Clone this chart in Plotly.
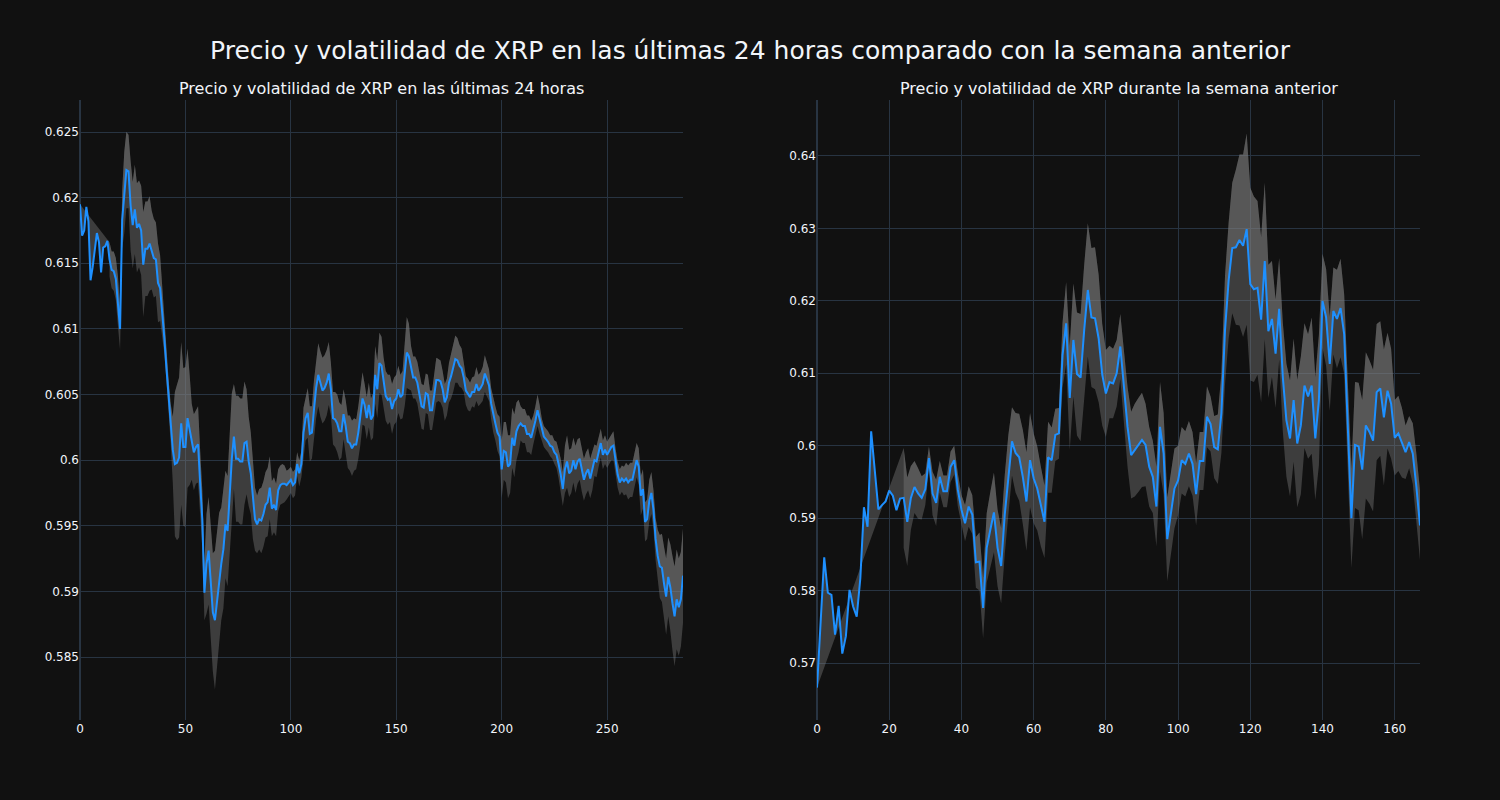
import plotly.graph_objects as go
from plotly.subplots import make_subplots

# ---- Left: last 24 hours ----
day_price = [
0.6195,0.6171,0.6175,0.6193,0.6182,0.6137,0.6147,0.6162,0.6173,0.6166,
0.6143,0.6162,0.6163,0.6167,0.6153,0.6145,0.6144,0.6138,0.6121,0.6100,
0.6183,0.6204,0.6221,0.6220,0.6194,0.6179,0.6191,0.6177,0.6180,0.6175,
0.6149,0.6161,0.6161,0.6165,0.6160,0.6154,0.6153,0.6135,0.6131,0.6113,
0.6093,0.6070,0.6051,0.6028,0.6008,0.5997,0.5998,0.6002,0.6028,0.6010,
0.6010,0.6032,0.6023,0.6014,0.6006,0.6010,0.6012,0.5982,0.5955,0.5899,
0.5921,0.5931,0.5907,0.5884,0.5878,0.5893,0.5910,0.5921,0.5932,0.5951,
0.5946,0.5977,0.6001,0.6018,0.6001,0.6001,0.5999,0.5999,0.6013,0.6014,
0.5999,0.5990,0.5970,0.5955,0.5951,0.5955,0.5954,0.5959,0.5966,0.5968,
0.5979,0.5963,0.5966,0.5962,0.5977,0.5981,0.5982,0.5982,0.5981,0.5983,
0.5985,0.5981,0.5983,0.5997,0.5990,0.5997,0.6021,0.6032,0.6036,0.6020,
0.6021,0.6039,0.6055,0.6065,0.6058,0.6053,0.6055,0.6059,0.6066,0.6054,
0.6032,0.6031,0.6028,0.6022,0.6022,0.6035,0.6026,0.6014,0.6013,0.6009,
0.6012,0.6012,0.6021,0.6034,0.6047,0.6042,0.6032,0.6042,0.6031,0.6034,
0.6065,0.6054,0.6074,0.6072,0.6059,0.6049,0.6046,0.6047,0.6039,0.6045,
0.6047,0.6054,0.6048,0.6050,0.6066,0.6082,0.6079,0.6070,0.6063,0.6063,
0.6059,0.6050,0.6041,0.6040,0.6051,0.6050,0.6038,0.6038,0.6049,0.6061,
0.6061,0.6060,0.6054,0.6044,0.6048,0.6059,0.6064,0.6070,0.6077,0.6076,
0.6072,0.6070,0.6063,0.6053,0.6050,0.6048,0.6052,0.6052,0.6058,0.6053,
0.6055,0.6058,0.6066,0.6062,0.6057,0.6043,0.6034,0.6028,0.6021,0.6018,
0.5993,0.6007,0.6006,0.5995,0.5997,0.6017,0.6011,0.6022,0.6026,0.6028,
0.6026,0.6026,0.6020,0.6020,0.6017,0.6023,0.6030,0.6038,0.6031,0.6023,
0.6018,0.6016,0.6014,0.6011,0.6010,0.6006,0.6004,0.5997,0.5989,0.5978,
0.5993,0.5999,0.5990,0.5992,0.6000,0.5993,0.5999,0.6001,0.5992,0.5985,
0.5990,0.5993,0.5986,0.5992,0.6000,0.5999,0.6006,0.6013,0.6004,0.6008,
0.6004,0.6007,0.6010,0.6011,0.5999,0.5989,0.5983,0.5986,0.5984,0.5986,
0.5983,0.5985,0.5985,0.5992,0.6000,0.5995,0.5973,0.5978,0.5953,0.5955,
0.5969,0.5975,0.5962,0.5940,0.5927,0.5919,0.5918,0.5906,0.5896,0.5911,
0.5903,0.5891,0.5881,0.5894,0.5888,0.5894,0.5912,
]
day_vol = [None] * 14 + [
0.0013,0.0014,0.0015,0.0016,0.0019,0.0016,
0.0022,0.0031,0.0029,0.0028,0.0034,0.0033,0.0034,0.0034,0.0033,0.0034,
0.0040,0.0036,0.0036,0.0036,0.0030,0.0030,0.0028,0.0030,0.0025,0.0020,
0.0012,0.0010,0.0011,0.0015,0.0025,0.0055,0.0059,0.0061,0.0062,0.0060,
0.0061,0.0053,0.0042,0.0029,0.0029,0.0028,0.0029,0.0025,0.0022,0.0021,
0.0038,0.0041,0.0045,0.0045,0.0053,0.0051,0.0050,0.0043,0.0045,0.0041,
0.0042,0.0047,0.0050,0.0040,0.0048,0.0048,0.0048,0.0048,0.0047,0.0040,
0.0034,0.0031,0.0030,0.0024,0.0022,0.0023,0.0025,0.0025,0.0025,0.0026,
0.0024,0.0021,0.0021,0.0020,0.0016,0.0015,0.0015,0.0014,0.0011,0.0010,
0.0010,0.0010,0.0010,0.0009,0.0010,0.0010,0.0019,0.0017,0.0019,0.0021,
0.0020,0.0022,0.0023,0.0024,0.0025,0.0025,0.0025,0.0025,0.0024,0.0020,
0.0020,0.0021,0.0022,0.0022,0.0020,0.0019,0.0020,0.0020,0.0021,0.0021,
0.0020,0.0019,0.0020,0.0022,0.0020,0.0016,0.0016,0.0017,0.0016,0.0017,
0.0022,0.0022,0.0023,0.0022,0.0019,0.0019,0.0019,0.0018,0.0019,0.0018,
0.0018,0.0018,0.0017,0.0018,0.0025,0.0027,0.0025,0.0017,0.0016,0.0016,
0.0016,0.0017,0.0017,0.0017,0.0015,0.0015,0.0015,0.0015,0.0016,0.0017,
0.0016,0.0016,0.0014,0.0014,0.0014,0.0015,0.0017,0.0018,0.0018,0.0017,
0.0016,0.0015,0.0011,0.0011,0.0012,0.0011,0.0011,0.0012,0.0013,0.0012,
0.0012,0.0013,0.0014,0.0013,0.0012,0.0012,0.0013,0.0013,0.0014,0.0015,
0.0022,0.0022,0.0023,0.0024,0.0022,0.0023,0.0024,0.0022,0.0020,0.0013,
0.0013,0.0013,0.0014,0.0014,0.0013,0.0011,0.0011,0.0012,0.0011,0.0009,
0.0008,0.0008,0.0008,0.0008,0.0009,0.0009,0.0010,0.0011,0.0012,0.0013,
0.0018,0.0020,0.0018,0.0017,0.0017,0.0018,0.0017,0.0016,0.0016,0.0016,
0.0016,0.0016,0.0015,0.0015,0.0012,0.0012,0.0011,0.0011,0.0011,0.0011,
0.0010,0.0010,0.0010,0.0011,0.0010,0.0010,0.0010,0.0010,0.0011,0.0012,
0.0013,0.0013,0.0013,0.0013,0.0013,0.0014,0.0015,0.0015,0.0015,0.0015,
0.0016,0.0016,0.0015,0.0016,0.0020,0.0024,0.0026,0.0028,0.0029,0.0030,
0.0033,0.0036,0.0038,0.0038,0.0037,0.0036,0.0036,
]

# ---- Right: previous week ----
week_price = [
0.5666,0.5757,0.5846,0.5797,0.5794,0.5739,0.5779,0.5713,0.5737,0.5801,
0.5778,0.5764,0.5817,0.5915,0.5888,0.6020,0.5962,0.5912,0.5918,0.5923,
0.5938,0.5931,0.5911,0.5927,0.5928,0.5895,0.5928,0.5943,0.5934,0.5928,
0.5940,0.5983,0.5934,0.5921,0.5957,0.5937,0.5937,0.5971,0.5980,0.5939,
0.5912,0.5893,0.5916,0.5905,0.5839,0.5840,0.5776,0.5859,0.5884,0.5908,
0.5859,0.5834,0.5905,0.5960,0.6006,0.5990,0.5984,0.5957,0.5923,0.5980,
0.5955,0.5941,0.5916,0.5895,0.5984,0.5980,0.6015,0.6017,0.6125,0.6169,
0.6066,0.6146,0.6099,0.6094,0.6160,0.6215,0.6177,0.6176,0.6148,0.6098,
0.6072,0.6088,0.6086,0.6100,0.6137,0.6081,0.6026,0.5987,0.5994,0.6001,
0.6008,0.6001,0.5971,0.5957,0.5916,0.6026,0.5989,0.5871,0.5906,0.5941,
0.5952,0.5980,0.5975,0.5989,0.5975,0.5933,0.5979,0.5979,0.6040,0.6030,
0.5998,0.5995,0.6045,0.6160,0.6228,0.6273,0.6274,0.6284,0.6276,0.6299,
0.6223,0.6216,0.6218,0.6174,0.6255,0.6158,0.6175,0.6127,0.6189,0.6095,
0.6035,0.6010,0.6063,0.6003,0.6028,0.6083,0.6068,0.6083,0.6010,0.6063,
0.6200,0.6177,0.6113,0.6186,0.6175,0.6190,0.6154,0.6035,0.5900,0.6001,
0.5999,0.5967,0.6028,0.6019,0.6007,0.6074,0.6079,0.6039,0.6076,0.6058,
0.6011,0.6017,0.6004,0.5991,0.6005,0.5989,0.5943,0.5890,
]
week_vol = [None] * 24 + [
0.0069,0.0061,0.0044,0.0036,0.0035,0.0030,
0.0022,0.0016,0.0030,0.0032,0.0022,0.0022,0.0022,0.0021,0.0020,0.0023,
0.0020,0.0025,0.0028,0.0027,0.0035,0.0040,0.0042,0.0048,0.0052,0.0055,
0.0053,0.0052,0.0055,0.0055,0.0047,0.0055,0.0060,0.0065,0.0068,0.0065,
0.0062,0.0058,0.0055,0.0050,0.0049,0.0045,0.0036,0.0035,0.0045,0.0057,
0.0072,0.0078,0.0085,0.0088,0.0090,0.0092,0.0096,0.0098,0.0088,0.0070,
0.0060,0.0050,0.0048,0.0046,0.0045,0.0045,0.0055,0.0060,0.0064,0.0065,
0.0065,0.0057,0.0055,0.0050,0.0055,0.0062,0.0056,0.0058,0.0055,0.0055,
0.0048,0.0046,0.0045,0.0045,0.0044,0.0043,0.0040,0.0040,0.0042,0.0038,
0.0043,0.0048,0.0055,0.0075,0.0080,0.0090,0.0107,0.0118,0.0126,0.0132,
0.0133,0.0128,0.0120,0.0114,0.0108,0.0092,0.0080,0.0075,0.0070,0.0075,
0.0078,0.0080,0.0085,0.0088,0.0095,0.0086,0.0086,0.0094,0.0085,0.0090,
0.0065,0.0067,0.0065,0.0060,0.0068,0.0068,0.0055,0.0060,0.0069,0.0087,
0.0088,0.0096,0.0101,0.0099,0.0098,0.0094,0.0093,0.0094,0.0080,0.0076,
0.0052,0.0052,0.0048,0.0037,0.0036,0.0042,0.0046,0.0048,
]

main_title = "Precio y volatilidad de XRP en las últimas 24 horas comparado con la semana anterior"
sub_titles = ["Precio y volatilidad de XRP en las últimas 24 horas",
              "Precio y volatilidad de XRP durante la semana anterior"]

LINE = "#1E90FF"
FILL = "rgba(128,128,128,0.4)"
FONT = "DejaVu Sans"


def band(price, vol, sign):
    return [None if v is None else p + sign * v for p, v in zip(price, vol)]


fig = make_subplots(rows=1, cols=2, subplot_titles=sub_titles)

for col, price, vol in [(1, day_price, day_vol), (2, week_price, week_vol)]:
    x = list(range(len(price)))
    fig.add_trace(go.Scatter(x=x, y=price, mode="lines", line=dict(width=0, color=LINE),
                             showlegend=False, hoverinfo="skip"), row=1, col=col)
    fig.add_trace(go.Scatter(x=x, y=band(price, vol, 1), mode="lines", line=dict(width=0),
                             fill="tonexty", fillcolor=FILL, showlegend=False), row=1, col=col)
    fig.add_trace(go.Scatter(x=x, y=band(price, vol, -1), mode="lines", line=dict(width=0),
                             fill="tonexty", fillcolor=FILL, showlegend=False), row=1, col=col)
    fig.add_trace(go.Scatter(x=x, y=price, mode="lines", line=dict(width=2, color=LINE),
                             showlegend=False), row=1, col=col)

fig.update_xaxes(range=[0, len(day_price) - 1], row=1, col=1)
fig.update_xaxes(range=[0, len(week_price) - 1], row=1, col=2)
fig.update_yaxes(range=[0.5802, 0.62744], row=1, col=1)
fig.update_yaxes(range=[0.56213, 0.64773], row=1, col=2)

for ann in fig.layout.annotations:
    ann.font = dict(family=FONT, size=16)

fig.update_layout(
    template="plotly_dark",
    width=1500, height=800,
    font=dict(family=FONT),
    title=dict(text=main_title, x=0.5, xanchor="center", y=0.9375, yanchor="middle",
               font=dict(family=FONT, size=25)),
    showlegend=False,
)

fig.write_html("out.html",
               config={"displayModeBar": False},
               post_script="document.body.style.margin='0';document.body.style.overflow='hidden';")
